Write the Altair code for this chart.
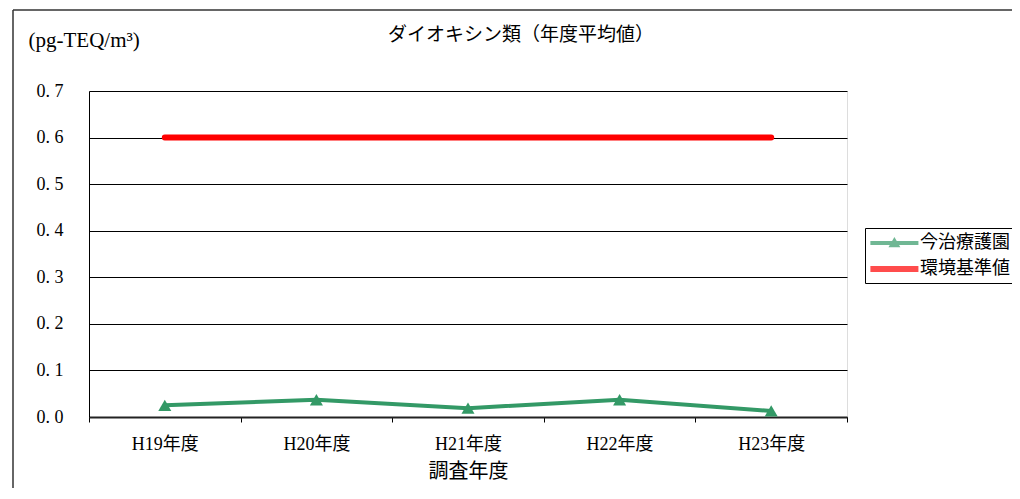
import altair as alt
import pandas as pd

years = ["H19年度", "H20年度", "H21年度", "H22年度", "H23年度"]
site_values = [0.025, 0.037, 0.019, 0.037, 0.013]
standard_values = [0.6, 0.6, 0.6, 0.6, 0.6]
series_names = ["今治療護園", "環境基準値"]
y_ticks = [0.0, 0.1, 0.2, 0.3, 0.4, 0.5, 0.6, 0.7]
chart_title = "ダイオキシン類（年度平均値）"

GREEN = "#339966"
RED = "#ff0000"
F = "Liberation Serif, Noto Sans CJK JP"

df = pd.DataFrame({
    "year": years + years,
    "value": site_values + standard_values,
    "series": [series_names[0]] * len(years) + [series_names[1]] * len(years),
})

green_path = "M-1,-0.21H4V0.21H-1Z M0.88,0.45L1.5,-0.62L2.12,0.45Z"
red_path = "M-1,-0.32H4V0.32H-1Z"

x_enc = alt.X(
    "year:N", sort=years,
    scale=alt.Scale(paddingInner=0, paddingOuter=0),
    axis=alt.Axis(
        title="調査年度", tickBand="extent", labelAngle=0,
        labelFont=F, labelFontSize=18, labelColor="black", labelPadding=13,
        tickColor="black", tickSize=5, domainColor="#222", domainWidth=2,
        titleFont=F, titleFontSize=20, titleFontWeight="normal", titleColor="black",
        titleX=379, titleY=54, titleBaseline="middle", titleAlign="center",
        grid=False,
    ),
)
y_enc = alt.Y(
    "value:Q",
    scale=alt.Scale(domain=[0, 0.7], nice=False, zero=True),
    axis=alt.Axis(
        values=y_ticks, format=".1f", labelExpr="replace(datum.label, '.', '. ')",
        grid=True, gridColor="black", gridWidth=1, ticks=False,
        domainColor="black", domainWidth=1,
        labelFont=F, labelFontSize=18, labelColor="black", labelPadding=26,
        title="(pg-TEQ/m³)", titleAngle=0, titleAlign="left", titleBaseline="middle",
        titleX=-61, titleY=-51, titleFont=F, titleFontSize=21, titleFontWeight="normal",
        titleColor="black",
    ),
)
color_scale = alt.Scale(domain=series_names, range=[GREEN, RED])

base = alt.Chart(df)

legend_layer = base.mark_point(filled=True, size=369).encode(
    x=x_enc, y=y_enc,
    color=alt.Color("series:N", scale=color_scale, legend=alt.Legend(
        title=None, orient="none", legendX=776, legendY=137,
        strokeColor="black", fillColor="white", padding=5,
        labelFont=F, labelFontSize=18, labelColor="black", labelOffset=30,
        symbolSize=369, symbolStrokeWidth=0, rowPadding=7,
    )),
    shape=alt.Shape("series:N", scale=alt.Scale(domain=series_names, range=[green_path, red_path])),
).transform_filter("false")

site_line = base.mark_line(strokeWidth=4, color=GREEN).encode(
    x=x_enc, y=y_enc,
).transform_filter(alt.datum.series == series_names[0])

std_line = base.mark_line(strokeWidth=6, strokeCap="round", color=RED).encode(
    x=x_enc, y=y_enc,
).transform_filter(alt.datum.series == series_names[1])

site_pts = base.mark_point(shape="triangle-up", filled=True, size=170, opacity=1, color=GREEN).encode(
    x=x_enc, y=y_enc,
).transform_filter(alt.datum.series == series_names[0])

frame_df = pd.DataFrame({"k": [0]})
frame_top = alt.Chart(frame_df).mark_rule(stroke="#333", strokeWidth=1.5).encode(
    x=alt.value(-76), x2=alt.value(1200), y=alt.value(-81), y2=alt.value(-81))
frame_left = alt.Chart(frame_df).mark_rule(stroke="#333", strokeWidth=1.5).encode(
    x=alt.value(-76), x2=alt.value(-76), y=alt.value(-81), y2=alt.value(900))

title_text = alt.Chart(pd.DataFrame({"t": [chart_title]})).mark_text(
    font=F, fontSize=19, color="black", align="center", baseline="middle"
).encode(text="t:N", x=alt.value(432), y=alt.value(-56))

chart = alt.layer(legend_layer, frame_top, frame_left, std_line, site_line, site_pts, title_text).properties(
    width=758, height=326,
    autosize=alt.AutoSizeParams(type="none"),
    padding={"left": 81, "top": 83, "right": 165, "bottom": 71},
).configure_view(stroke=None).configure(background="white")

chart.save("out.html", embed_options={"renderer": "svg", "actions": False})
